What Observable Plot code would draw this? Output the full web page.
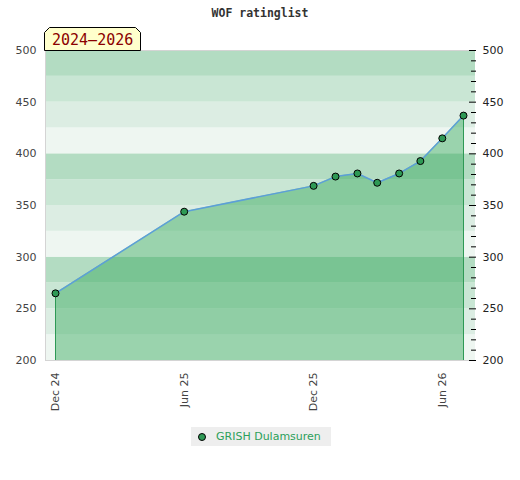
<!DOCTYPE html>
<html>
<head>
<meta charset="utf-8">
<script src="https://cdn.jsdelivr.net/npm/d3@7"></script>
<script src="https://cdn.jsdelivr.net/npm/@observablehq/plot@0.6"></script>
<style>
  body { margin: 0; background: #fff; }
  #wrap { position: relative; width: 520px; height: 480px; overflow: hidden; }
  #title { position: absolute; top: 6px; left: 0; width: 520px; text-align: center;
           font: bold 11.5px "DejaVu Sans Mono", monospace; color: #333; }
  #chart { position: absolute; top: 0; left: 0; }
  #badge { position: absolute; left: 44px; top: 27px; }
  #legend { position: absolute; left: 191px; top: 427px; width: 140px; height: 19px;
            background: #eee; font: 11px "DejaVu Sans", sans-serif; color: #2ca05a; }
  #legend svg { position: absolute; left: 6px; top: 5px; }
  #legend span { position: absolute; left: 25px; top: 3px; white-space: nowrap; }
</style>
</head>
<body>
<div id="wrap">
  <div id="chart"></div>
  <div id="title">WOF ratinglist</div>
  <svg id="badge" width="98" height="25">
    <polygon points="5.5,0.5 91.5,0.5 96.5,5.5 96.5,23.5 0.5,23.5 0.5,5.5" fill="#ffffcc" stroke="#000" stroke-width="1"/>
    <text x="8" y="18" font-family="DejaVu Sans Mono, monospace" font-size="15" fill="#8b0000">2024–2026</text>
  </svg>
  <div id="legend">
    <svg width="10" height="10"><circle cx="5" cy="5" r="3.5" fill="#2e9955" stroke="#000" stroke-width="1"/></svg>
    <span>GRISH Dulamsuren</span>
  </div>
</div>
<script>
const dates = ["2024-12-01","2025-06-01","2025-12-01","2026-01-01","2026-02-01","2026-03-01","2026-04-01","2026-05-01","2026-06-01","2026-07-01"];
const ratings = [265, 344, 369, 378, 381, 372, 381, 393, 415, 437];
const xTickDates = ["2024-12-01","2025-06-01","2025-12-01","2026-06-01"];
const yMajorTicks = [200, 250, 300, 350, 400, 450, 500];
const yMinorTicks = [210,220,230,240,260,270,280,290,310,320,330,340,360,370,380,390,410,420,430,440,460,470,480,490];
const bandStarts = [200,225,250,275,300,325,350,375,400,425,450,475];
const bandColors = ["#eef6f1","#dcede3","#c9e6d4","#b3dcc2"];

const data = dates.map((d, i) => ({date: new Date(d), rating: ratings[i]}));
const bands = bandStarts.map((b, i) => ({y1: b, y2: b + 25, color: bandColors[i % 4]}));
const ends = [data[0], data[data.length - 1]];
const xTicks = xTickDates.map(d => new Date(d));

const chart = Plot.plot({
  width: 520,
  height: 480,
  marginTop: 50,
  marginBottom: 120,
  marginLeft: 45,
  marginRight: 45,
  style: {fontFamily: "DejaVu Sans, sans-serif", fontSize: "11px", color: "#444", background: "transparent"},
  x: {type: "utc", domain: [data[0].date, data[data.length - 1].date], insetLeft: 10, insetRight: 12},
  y: {domain: [200, 500]},
  marks: [
    Plot.rectY(bands, {y1: "y1", y2: "y2", fill: "color"}),
    Plot.areaY(data, {x: "date", y1: 200, y2: "rating", fill: "#2fa656", fillOpacity: 0.44}),
    Plot.ruleX(ends, {x: "date", y1: 200, y2: "rating", stroke: "#2e9955", strokeWidth: 1}),
    Plot.ruleY([200, 500], {stroke: "#d4d4d4"}),
    Plot.frame({anchor: "left", stroke: "#d4d4d4"}),
    Plot.line(data, {x: "date", y: "rating", stroke: "#5c9fd8", strokeWidth: 1.5}),
    Plot.dot(data, {x: "date", y: "rating", r: 3.5, fill: "#2e9955", stroke: "#000", strokeWidth: 1}),
    Plot.axisY({anchor: "left", ticks: yMajorTicks, tickSize: 0, tickPadding: 9, label: null, fill: "#444"}),
    Plot.axisY({anchor: "right", ticks: yMajorTicks, tickSize: 0, tickPadding: 7, label: null, fill: "#222"}),
    Plot.axisY({anchor: "right", ticks: yMinorTicks, tickSize: 5, dx: -5, text: null, label: null, stroke: "#000"}),
    Plot.axisY({anchor: "right", ticks: yMajorTicks, tickSize: 7, dx: -7, text: null, label: null, stroke: "#000"}),
    Plot.axisX({anchor: "bottom", ticks: xTicks, tickFormat: d3.utcFormat("%b %y"), tickRotate: -90, tickSize: 0, tickPadding: 12, label: null, fill: "#444"})
  ]
});
document.getElementById("chart").appendChild(chart);
</script>
</body>
</html>
